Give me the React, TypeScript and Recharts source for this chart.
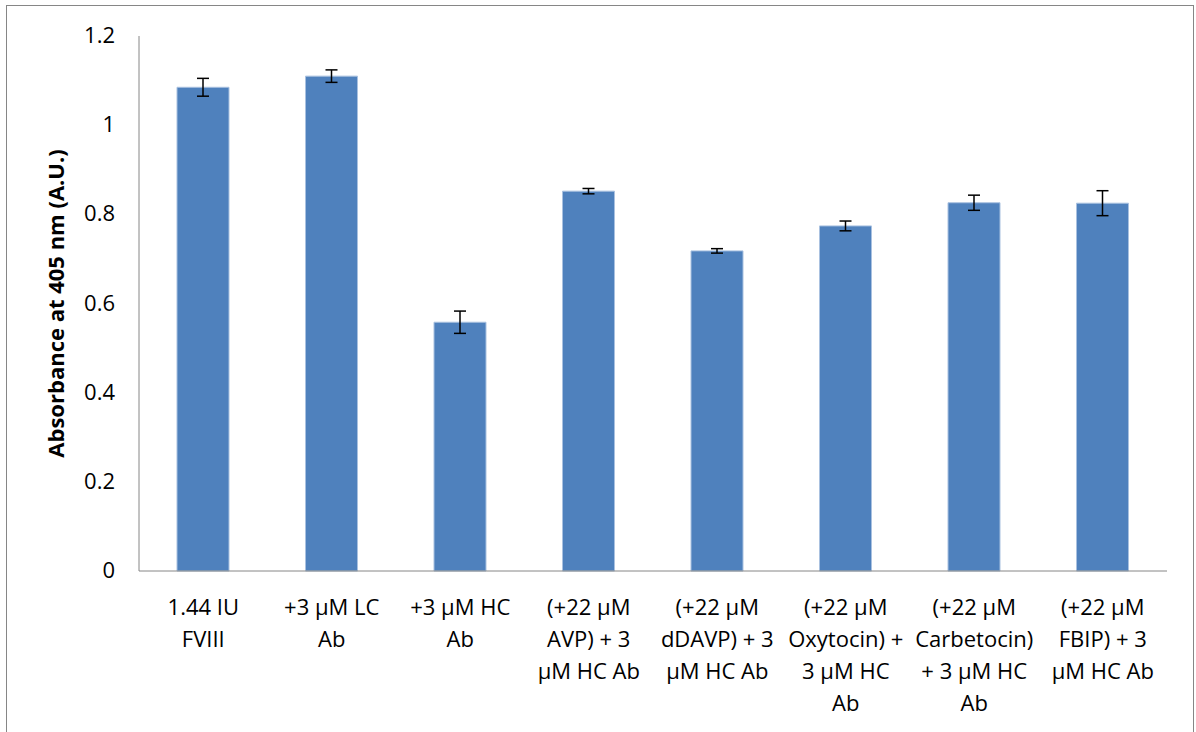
import { BarChart, Bar, XAxis, YAxis, ErrorBar } from 'recharts';

// categories, wrapped the way the original axis wraps them
const categories = [
  '1.44 IU\nFVIII',
  '+3 μM LC\nAb',
  '+3 μM HC\nAb',
  '(+22 μM\nAVP) + 3\nμM HC Ab',
  '(+22 μM\ndDAVP) + 3\nμM HC Ab',
  '(+22 μM\nOxytocin) +\n3 μM HC\nAb',
  '(+22 μM\nCarbetocin)\n+ 3 μM HC\nAb',
  '(+22 μM\nFBIP) + 3\nμM HC Ab',
];
const absorbance = [1.085, 1.11, 0.558, 0.852, 0.718, 0.774, 0.826, 0.825];
const errors = [0.02, 0.014, 0.025, 0.006, 0.005, 0.011, 0.017, 0.028];
const yTicks = [0, 0.2, 0.4, 0.6, 0.8, 1, 1.2];

const data = categories.map((name, i) => ({ name, value: absorbance[i], err: errors[i] }));

const FONT = '"Open Sans", Lato, sans-serif';
const AXIS_GREY = '#868686';

const XTick = ({ x, y, payload }: any) => {
  const lines = String(payload.value).split('\n');
  return (
    <g transform={`translate(${x},${y})`}>
      {lines.map((line, i) => (
        <text key={i} x={0} y={0} dy={36 + i * 32} textAnchor="middle" fill="#000" fontSize={22} fontFamily={FONT}>
          {line}
        </text>
      ))}
    </g>
  );
};

const YTick = ({ x, y, payload }: any) => (
  <text x={x} y={y} dy={7} textAnchor="end" fill="#000" fontSize={22} fontFamily={FONT}>
    {payload.value}
  </text>
);

export default function App() {
  return (
    <div style={{ position: 'absolute', left: 0, top: 0, width: 1196, height: 732, background: '#fff', overflow: 'hidden' }}>
      <div style={{ position: 'absolute', left: 6, top: 5, width: 1188, height: 760, border: `1px solid ${AXIS_GREY}`, boxSizing: 'border-box' }} />
      <BarChart
        width={1196}
        height={732}
        data={data}
        margin={{ top: 36, right: 29, left: 19, bottom: 61 }}
        style={{ position: 'absolute', left: 0, top: 0 }}
      >
        <XAxis
          dataKey="name"
          height={100}
          interval={0}
          tickLine={false}
          axisLine={{ stroke: AXIS_GREY }}
          tick={<XTick />}
        />
        <YAxis
          width={120}
          domain={[0, 1.2]}
          ticks={yTicks}
          tickLine={false}
          tickMargin={18}
          axisLine={{ stroke: AXIS_GREY }}
          tick={<YTick />}
          label={{
            value: 'Absorbance at 405 nm (A.U.)',
            angle: -90,
            position: 'insideLeft',
            offset: 37,
            style: { fontFamily: FONT, fontSize: 22, fontWeight: 700, fill: '#000', textAnchor: 'middle' },
          }}
        />
        <Bar dataKey="value" fill="#4F81BD" stroke="#A9C1E0" strokeWidth={1} barSize={52} isAnimationActive={false}>
          <ErrorBar dataKey="err" width={6} stroke="#000" strokeWidth={1.5} />
        </Bar>
      </BarChart>
    </div>
  );
}
